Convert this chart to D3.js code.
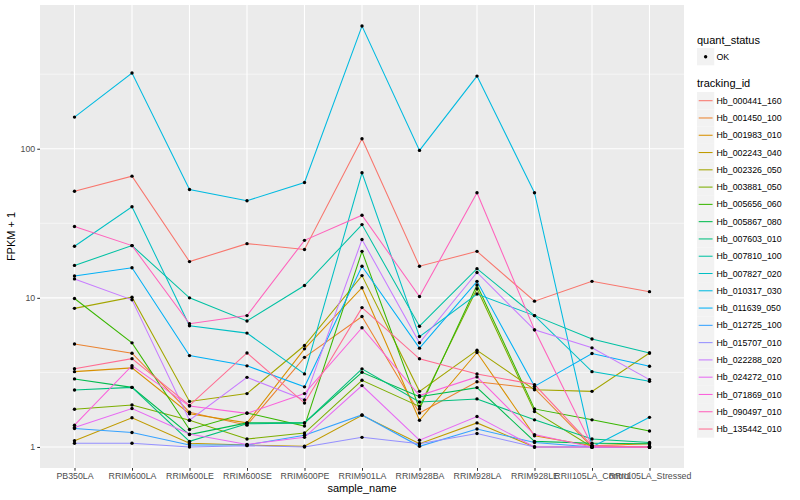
<!DOCTYPE html>
<html>
<head>
<meta charset="utf-8">
<script src="https://cdn.jsdelivr.net/npm/d3@7"></script>
<style>
  body { margin: 0; background: #fff; }
  text { font-family: "Liberation Sans", Arial, Helvetica, sans-serif; }
</style>
</head>
<body>
<svg id="chart" width="800" height="500"></svg>
<script>
// sample names on the x axis
var samples = ['PB350LA','RRIM600LA','RRIM600LE','RRIM600SE','RRIM600PE','RRIM901LA',
  'RRIM928BA','RRIM928LA','RRIM928LE','RRII105LA_Control','RRII105LA_Stressed'];

// FPKM + 1 per tracking id, in sample order
var hb_000441_160 = [51.9, 65.5, 17.5, 23.1, 21.1, 116.7, 16.3, 20.5, 9.5, 12.9, 11.0];
var hb_001450_100 = [4.9, 4.25, 1.71, 1.40, 3.99, 7.5, 1.69, 2.74, 2.47, 1.0, 1.0];
var hb_001983_010 = [3.2, 3.39, 1.67, 1.45, 4.55, 11.7, 1.51, 4.3, 1.19, 1.02, 1.05];
var hb_002243_040 = [1.10, 1.57, 1.06, 1.03, 1.01, 1.63, 1.05, 1.45, 1.0, 1.0, 1.0];
var hb_002326_050 = [8.5, 10.1, 2.02, 2.28, 4.79, 14.1, 2.36, 4.45, 2.42, 2.36, 4.27];
var hb_003881_050 = [1.79, 1.91, 1.51, 1.13, 1.24, 2.8, 1.87, 11.5, 1.73, 1.0, 1.0];
var hb_005656_060 = [9.9, 4.99, 1.31, 1.69, 1.38, 20.5, 1.8, 12.2, 1.8, 1.52, 1.28];
var hb_005867_080 = [2.86, 2.51, 1.21, 1.45, 1.45, 3.17, 2.17, 2.5, 1.09, 1.06, 1.05];
var hb_007603_010 = [2.41, 2.51, 1.09, 1.43, 1.45, 3.34, 2.0, 2.1, 1.52, 1.13, 1.07];
var hb_007810_100 = [16.5, 22.4, 10.0, 7.0, 12.1, 31, 6.45, 15.7, 7.6, 5.3, 4.27];
var hb_007827_020 = [22.2, 40.8, 6.5, 5.8, 3.09, 69, 5.5, 10.6, 7.6, 3.2, 2.76];
var hb_010317_030 = [163, 322, 53.3, 44.8, 59.4, 665, 97.5, 307, 50.7, 1.0, 1.58];
var hb_011639_050 = [14.0, 15.9, 4.1, 3.5, 2.53, 16.3, 4.6, 12.9, 2.55, 4.23, 3.48];
var hb_012725_100 = [1.33, 1.25, 1.03, 1.03, 1.20, 1.64, 1.01, 1.32, 1.07, 1.0, 1.0];
var hb_015707_010 = [1.06, 1.06, 1.0, 1.02, 1.0, 1.16, 1.05, 1.23, 1.0, 1.0, 1.0];
var hb_022288_020 = [13.4, 9.7, 1.51, 2.93, 2.07, 24.6, 5.0, 14.8, 6.1, 4.62, 2.83];
var hb_024272_010 = [1.35, 1.81, 1.22, 1.04, 1.16, 2.58, 1.11, 1.6, 1.0, 1.0, 1.0];
var hb_071869_010 = [1.40, 3.51, 1.88, 1.68, 2.28, 6.3, 2.21, 2.95, 1.21, 1.0, 1.0];
var hb_090497_010 = [30.1, 22.4, 6.7, 7.6, 24.3, 35.8, 10.2, 50.7, 6.1, 1.02, 1.0];
var hb_135442_010 = [3.35, 3.91, 1.9, 4.27, 1.97, 8.6, 3.9, 3.09, 2.62, 1.02, 1.0];

var trackingIds = ['Hb_000441_160','Hb_001450_100','Hb_001983_010','Hb_002243_040','Hb_002326_050',
  'Hb_003881_050','Hb_005656_060','Hb_005867_080','Hb_007603_010','Hb_007810_100','Hb_007827_020',
  'Hb_010317_030','Hb_011639_050','Hb_012725_100','Hb_015707_010','Hb_022288_020','Hb_024272_010',
  'Hb_071869_010','Hb_090497_010','Hb_135442_010'];
var seriesValues = [hb_000441_160, hb_001450_100, hb_001983_010, hb_002243_040, hb_002326_050,
  hb_003881_050, hb_005656_060, hb_005867_080, hb_007603_010, hb_007810_100, hb_007827_020,
  hb_010317_030, hb_011639_050, hb_012725_100, hb_015707_010, hb_022288_020, hb_024272_010,
  hb_071869_010, hb_090497_010, hb_135442_010];
var hueColors = ['#F8766D','#EA8331','#D89000','#C09B00','#A3A500','#7CAE00','#39B600','#00BB4E',
  '#00BF7D','#00C1A3','#00BFC4','#00BAE0','#00B0F6','#35A2FF','#9590FF','#C77CFF','#E76BF3',
  '#FA62DB','#FF62BC','#FF6C91'];
var yTicks = [1, 10, 100];
var statusLabels = ['OK'];

var svg = d3.select('#chart');
var panel = {left: 40, right: 684, top: 5, bottom: 468};

var x = d3.scalePoint().domain(samples).range([panel.left, panel.right]).padding(0.6);

// log scale with ggplot-like 5% expansion
var allVals = d3.merge(seriesValues);
var lmin = Math.log10(d3.min(allVals)), lmax = Math.log10(d3.max(allVals));
var pad = (lmax - lmin) * 0.05;
var y = d3.scaleLog()
  .domain([Math.pow(10, lmin - pad), Math.pow(10, lmax + pad)])
  .range([panel.bottom, panel.top]);

svg.append('rect')
  .attr('x', panel.left).attr('y', panel.top)
  .attr('width', panel.right - panel.left).attr('height', panel.bottom - panel.top)
  .attr('fill', '#EBEBEB');

var grid = svg.append('g');
var minor = [-0.5, 0.5, 1.5, 2.5, 3.5].map(function(p){ return Math.pow(10, p); })
  .filter(function(v){ return y(v) > panel.top && y(v) < panel.bottom; });
grid.selectAll('line.minor').data(minor).enter().append('line')
  .attr('x1', panel.left).attr('x2', panel.right)
  .attr('y1', function(d){ return y(d); }).attr('y2', function(d){ return y(d); })
  .attr('stroke', '#fff').attr('stroke-width', 0.55);
grid.selectAll('line.ymajor').data(yTicks).enter().append('line')
  .attr('x1', panel.left).attr('x2', panel.right)
  .attr('y1', function(d){ return y(d); }).attr('y2', function(d){ return y(d); })
  .attr('stroke', '#fff').attr('stroke-width', 1.1);
grid.selectAll('line.xmajor').data(samples).enter().append('line')
  .attr('y1', panel.top).attr('y2', panel.bottom)
  .attr('x1', function(d){ return x(d); }).attr('x2', function(d){ return x(d); })
  .attr('stroke', '#fff').attr('stroke-width', 1.1);

// lines
var line = d3.line()
  .x(function(d, i){ return x(samples[i]); })
  .y(function(d){ return y(d); });
svg.append('g').selectAll('path').data(seriesValues).enter().append('path')
  .attr('d', line)
  .attr('fill', 'none')
  .attr('stroke', function(d, i){ return hueColors[i]; })
  .attr('stroke-width', 1.05);

// points
var pts = svg.append('g');
seriesValues.forEach(function(vals){
  pts.selectAll(null).data(vals).enter().append('circle')
    .attr('cx', function(d, i){ return x(samples[i]); })
    .attr('cy', function(d){ return y(d); })
    .attr('r', 1.7)
    .attr('fill', '#000');
});

// axes
var yAxis = svg.append('g').attr('transform', 'translate(' + panel.left + ',0)')
  .call(d3.axisLeft(y).tickValues(yTicks).tickFormat(d3.format('d')).tickSize(2.75).tickPadding(2));
var xAxis = svg.append('g').attr('transform', 'translate(0,' + panel.bottom + ')')
  .call(d3.axisBottom(x).tickSize(2.75).tickPadding(2));
[yAxis, xAxis].forEach(function(a){
  a.select('.domain').remove();
  a.selectAll('line').attr('stroke', '#333').attr('stroke-width', 1.05);
  a.selectAll('text').attr('fill', '#4D4D4D').style('font-size', '8.8px');
});

svg.append('text')
  .attr('x', (panel.left + panel.right) / 2).attr('y', 492)
  .attr('text-anchor', 'middle').style('font-size', '11px').attr('fill', '#000')
  .text('sample_name');
svg.append('text')
  .attr('transform', 'translate(15,' + ((panel.top + panel.bottom) / 2) + ') rotate(-90)')
  .attr('text-anchor', 'middle').style('font-size', '11px').attr('fill', '#000')
  .text('FPKM + 1');

// legends
var lg = svg.append('g').attr('transform', 'translate(697,0)');
var keySize = 17.28;
lg.append('text').attr('x', 0).attr('y', 44).style('font-size', '11px').text('quant_status');
statusLabels.forEach(function(s, i){
  var cy = 56.7 + i * keySize;
  lg.append('rect').attr('x', 0).attr('y', cy - keySize / 2).attr('width', keySize).attr('height', keySize).attr('fill', '#F2F2F2');
  lg.append('circle').attr('cx', keySize / 2).attr('cy', cy).attr('r', 1.7).attr('fill', '#000');
  lg.append('text').attr('x', 19.5).attr('y', cy + 3.1).style('font-size', '8.8px').attr('fill', '#000').text(s);
});

lg.append('text').attr('x', 0).attr('y', 87).style('font-size', '11px').text('tracking_id');
var items = lg.selectAll('g.item').data(trackingIds).enter().append('g')
  .attr('transform', function(d, i){ return 'translate(0,' + (100.7 + i * keySize) + ')'; });
items.append('rect').attr('x', 0).attr('y', -keySize / 2).attr('width', keySize).attr('height', keySize).attr('fill', '#F2F2F2');
items.append('line').attr('x1', 1.7).attr('x2', keySize - 1.7).attr('y1', 0).attr('y2', 0)
  .attr('stroke', function(d, i){ return hueColors[i]; }).attr('stroke-width', 1.05);
items.append('text').attr('x', 19.5).attr('y', 3.1).style('font-size', '8.8px').attr('fill', '#000')
  .text(function(d){ return d; });
</script>
</body>
</html>
